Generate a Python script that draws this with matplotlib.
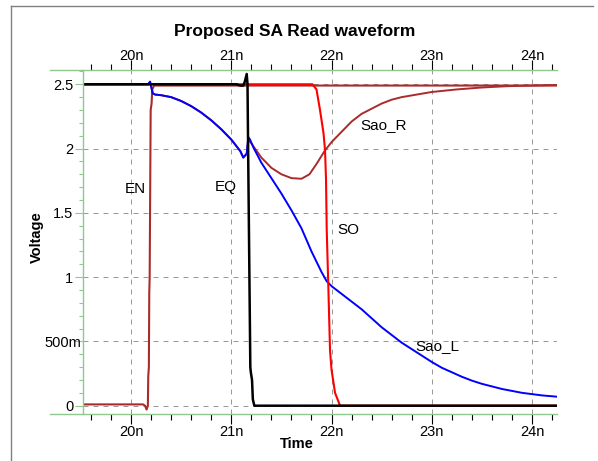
import matplotlib
matplotlib.use('Agg')
import matplotlib.pyplot as plt
import matplotlib.transforms as mtransforms
from matplotlib.lines import Line2D
from matplotlib.ticker import FixedLocator, FixedFormatter, MultipleLocator

plt.rcParams['font.family'] = ['Liberation Sans Narrow', 'Liberation Sans', 'DejaVu Sans']

# time in ns, voltage in V
en_t = [19.52, 20.12, 20.14, 20.155, 20.168, 20.172, 20.178, 20.182, 20.186, 20.196, 20.205, 20.212, 20.23, 20.3, 24.25]
en_v = [0.01, 0.01, 0.0, -0.03, 0.0, 0.23, 0.3, 0.88, 1.0, 2.3, 2.35, 2.46, 2.49, 2.49, 2.49]

# bit lines share the same curve until EQ opens
pre_t = [19.52, 20.17, 20.19, 20.216, 20.24, 20.3, 20.4, 20.5, 20.6, 20.7, 20.8, 20.9, 21.0, 21.05, 21.09, 21.12, 21.154]
pre_v = [2.5, 2.5, 2.52, 2.43, 2.42, 2.415, 2.40, 2.37, 2.33, 2.28, 2.22, 2.15, 2.07, 2.02, 1.98, 1.93, 1.96]

sao_r_t = pre_t + [21.17, 21.2, 21.3, 21.4, 21.5, 21.6, 21.7, 21.78, 21.85, 21.93, 22.0, 22.1, 22.2, 22.3,
                   22.4, 22.5, 22.6, 22.7, 22.85, 23.0, 23.25, 23.5, 23.75, 24.0, 24.25]
sao_r_v = pre_v + [2.07, 2.04, 1.93, 1.85, 1.80, 1.77, 1.765, 1.80, 1.88, 1.98, 2.05, 2.13, 2.21, 2.27,
                   2.31, 2.35, 2.38, 2.40, 2.42, 2.44, 2.46, 2.475, 2.485, 2.49, 2.495]

sao_l_t = pre_t + [21.17, 21.187, 21.22, 21.3, 21.4, 21.5, 21.6, 21.7, 21.8, 21.9, 21.95, 22.0, 22.1, 22.2,
                   22.3, 22.4, 22.5, 22.6, 22.7, 22.8, 22.9, 23.0, 23.1, 23.2, 23.3, 23.4, 23.5, 23.6,
                   23.7, 23.8, 23.9, 24.0, 24.1, 24.25]
sao_l_v = pre_v + [2.09, 2.07, 2.01, 1.89, 1.77, 1.65, 1.52, 1.38, 1.20, 1.04, 0.97, 0.93, 0.87, 0.81,
                   0.75, 0.68, 0.61, 0.55, 0.49, 0.44, 0.39, 0.34, 0.295, 0.26, 0.225, 0.195, 0.17, 0.15,
                   0.13, 0.115, 0.10, 0.09, 0.08, 0.07]

so_t = [19.52, 21.81, 21.85, 21.885, 21.92, 21.935, 21.945, 21.952, 21.968, 21.985, 22.0, 22.035, 22.085, 24.25]
so_v = [2.5, 2.5, 2.46, 2.30, 2.12, 1.99, 1.76, 1.37, 0.93, 0.43, 0.28, 0.10, 0.0, 0.0]

eq_t = [19.52, 21.05, 21.09, 21.12, 21.135, 21.154, 21.162, 21.168, 21.19, 21.195, 21.207, 21.215, 21.23, 24.25]
eq_v = [2.5, 2.5, 2.49, 2.49, 2.52, 2.58, 2.5, 2.0, 0.3, 0.26, 0.2, 0.05, 0.0, 0.0]

x_ticks = [20, 21, 22, 23, 24]
x_labels = ['20n', '21n', '22n', '23n', '24n']
y_ticks = [0, 0.5, 1, 1.5, 2, 2.5]
y_labels = ['0', '500m', '1', '1.5', '2', '2.5']

# signal name -> label position (time, voltage)
names = ['EN', 'EQ', 'SO', 'Sao_R', 'Sao_L']
name_t = [20.04, 20.94, 22.165, 22.524, 23.052]
name_v = [1.686, 1.70, 1.366, 2.184, 0.465]

brown = '#aa2b2b'
green = '#90c890'

fig = plt.figure(figsize=(5.98, 4.61), dpi=100)
ax = fig.add_axes([83 / 598, 1 - 414 / 461, 474 / 598, 344 / 461])

ax.plot(en_t, en_v, color=brown, lw=1.5)
ax.plot(sao_r_t, sao_r_v, color=brown, lw=1.4)
ax.plot(sao_l_t, sao_l_v, color='#0000ff', lw=1.4)
ax.plot(so_t, so_v, color='#ff0000', lw=1.5)
ax.plot(eq_t, eq_v, color='black', lw=1.8)

ax.set_xlim(19.521, 24.249)
ax.set_ylim(-0.0646, 2.611)

ax.xaxis.set_major_locator(FixedLocator(x_ticks))
ax.xaxis.set_major_formatter(FixedFormatter(x_labels))
ax.xaxis.set_minor_locator(MultipleLocator(0.2))
ax.yaxis.set_major_locator(FixedLocator(y_ticks))
ax.yaxis.set_major_formatter(FixedFormatter(y_labels))
ax.yaxis.set_minor_locator(MultipleLocator(0.1))

ax.grid(True, which='major', color='#9a9a9a', lw=0.72, linestyle=(0, (5, 5)))

ax.tick_params(axis='x', which='both', direction='out', top=True, labeltop=True,
               color='black', labelsize=10.5, width=0.8)
ax.tick_params(axis='x', which='major', length=7, pad=1)
ax.tick_params(axis='x', which='minor', length=4)
ax.tick_params(axis='y', which='both', direction='out', color=green, labelsize=10.5, width=0.8)
ax.tick_params(axis='y', which='major', length=6, pad=1)
ax.tick_params(axis='y', which='minor', length=3)
for t in ax.xaxis.get_major_ticks():
    t.label2.set_transform(t.label2.get_transform() +
                           mtransforms.ScaledTranslation(0, -3 / 72, fig.dpi_scale_trans))

# the 500m label sits a little right of the others
lab500 = ax.yaxis.get_major_ticks()[1].label1
lab500.set_transform(lab500.get_transform() +
                     mtransforms.ScaledTranslation(8 / 100, 0, fig.dpi_scale_trans))

for side in ['left', 'top', 'bottom']:
    ax.spines[side].set_color(green)
    ax.spines[side].set_linewidth(1.0)
ax.spines['right'].set_visible(False)
ax.spines['top'].set_bounds(19.19, 24.249)
ax.spines['bottom'].set_bounds(19.19, 24.249)

for n, tx, vy in zip(names, name_t, name_v):
    ax.text(tx, vy, n, ha='center', va='center', fontsize=11, family='Liberation Sans')

fig.text(294.5 / 598, 1 - 36 / 461, 'Proposed SA Read waveform', ha='center', va='baseline',
         fontsize=12.5, fontweight='bold', family='Liberation Sans')
ax.set_xlabel('Time', fontsize=10.5, fontweight='bold', family='Liberation Sans')
ax.xaxis.set_label_coords((297 - 83) / 474, (414 - 448) / 344)
ax.xaxis.label.set_va('baseline')
ax.set_ylabel('Voltage', fontsize=10.5, fontweight='bold', family='Liberation Sans')
ax.yaxis.set_label_coords((37 - 83) / 474, (414 - 237) / 344)
ax.yaxis.label.set_va('center')

# panel frame
fig.add_artist(Line2D([11 / 598, 593 / 598], [1 - 6 / 461, 1 - 6 / 461], color='#808080', lw=1.0))
fig.add_artist(Line2D([11 / 598, 11 / 598], [1 - 6 / 461, 0], color='#808080', lw=1.0))

fig.savefig('out.png', dpi=100)
